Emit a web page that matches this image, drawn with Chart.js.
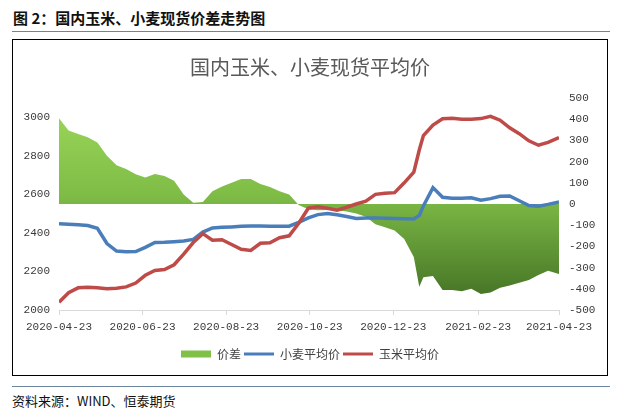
<!DOCTYPE html>
<html lang="zh">
<head>
<meta charset="utf-8">
<title>国内玉米、小麦现货价差走势图</title>
<script src="https://cdn.jsdelivr.net/npm/chart.js@4.4.1/dist/chart.umd.min.js"></script>
<style>
  html, body { margin: 0; padding: 0; background: #fff; }
  body { width: 623px; height: 416px; position: relative; overflow: hidden; font-family: "Noto Sans CJK SC", sans-serif; }
  .fig-title { position: absolute; left: 13px; top: 7px; font-size: 15px; font-weight: bold; color: #111; line-height: 21px; white-space: nowrap; }
  .rule { position: absolute; left: 12px; width: 598px; height: 1px; background: #6d86a0; }
  .frame { position: absolute; left: 12px; top: 39px; width: 594px; height: 335px; border: 1px solid #000; }
  .frame canvas { display: block; }
  .source { position: absolute; left: 12px; top: 391px; font-size: 13px; color: #111; line-height: 19px; white-space: nowrap; }
</style>
</head>
<body>
<div class="fig-title">图 2：国内玉米、小麦现货价差走势图</div>
<div class="rule" style="top:31px"></div>
<div class="frame"><canvas id="chart" width="594" height="335" style="width:594px;height:335px"></canvas></div>
<div class="rule" style="top:386px"></div>
<div class="source">资料来源：WIND、恒泰期货</div>

<script>
// weekly readings, plus one extra point for the January spike
const dates = [
    '2020-04-23', '2020-04-30', '2020-05-07', '2020-05-14', '2020-05-21', '2020-05-28',
    '2020-06-04', '2020-06-11', '2020-06-18', '2020-06-25', '2020-07-02', '2020-07-09',
    '2020-07-16', '2020-07-23', '2020-07-30', '2020-08-06', '2020-08-13', '2020-08-20',
    '2020-08-27', '2020-09-03', '2020-09-10', '2020-09-17', '2020-09-24', '2020-10-01',
    '2020-10-08', '2020-10-15', '2020-10-22', '2020-10-29', '2020-11-05', '2020-11-12',
    '2020-11-19', '2020-11-26', '2020-12-03', '2020-12-10', '2020-12-17', '2020-12-24',
    '2020-12-31', '2021-01-07', '2021-01-11', '2021-01-14', '2021-01-21', '2021-01-28',
    '2021-02-04', '2021-02-11', '2021-02-18', '2021-02-25', '2021-03-04', '2021-03-11',
    '2021-03-18', '2021-03-25', '2021-04-01', '2021-04-08', '2021-04-15', '2021-04-23'
];

const wheatAvg = [
    2448, 2445, 2442, 2438, 2424, 2345, 2306, 2302, 2303, 2325, 2350, 2351,
    2354, 2358, 2366, 2404, 2426, 2429, 2431, 2434, 2436, 2436, 2435, 2434,
    2435, 2455, 2478, 2495, 2501, 2494, 2485, 2475, 2477, 2478, 2476, 2475,
    2473, 2472, 2490, 2540, 2635, 2585, 2580, 2580, 2582, 2570, 2578, 2590,
    2592, 2567, 2542, 2539, 2548, 2560
];

const cornAvg = [
    2040, 2090, 2115, 2118, 2115, 2110, 2113, 2120, 2140, 2180, 2205, 2210,
    2235, 2290, 2350, 2396, 2362, 2365, 2340, 2315, 2309, 2346, 2349, 2375,
    2385, 2450, 2528, 2535, 2528, 2518, 2533, 2550, 2565, 2600, 2606, 2609,
    2660, 2715, 2830, 2905, 2960, 2992, 2995, 2990, 2990, 2993, 3005, 2985,
    2945, 2915, 2878, 2855, 2870, 2895
];

const spread = [
    405, 347, 330, 315, 290, 228, 183, 165, 140, 125, 141, 132,
    110, 45, 6, 10, 60, 82, 100, 118, 118, 94, 80, 60,
    45, -5, -25, -30, -28, -30, -35, -45, -60, -95, -110, -125,
    -165, -250, -390, -345, -340, -406, -406, -412, -400, -425, -418, -395,
    -385, -372, -358, -335, -315, -330
];

const xTickDates = ['2020-04-23', '2020-06-23', '2020-08-23', '2020-10-23', '2020-12-23', '2021-02-23', '2021-04-23'];
const leftTicks = [2000, 2200, 2400, 2600, 2800, 3000];
const rightTicks = [-500, -400, -300, -200, -100, 0, 100, 200, 300, 400, 500];

const CJK = '"Noto Sans CJK SC", sans-serif';
const MONO = '"Liberation Mono", "DejaVu Sans Mono", monospace';

function dayOf(s) {
    const [y, m, d] = s.split('-').map(Number);
    return Math.round((Date.UTC(y, m - 1, d) - Date.UTC(2020, 3, 23)) / 86400000);
}

const days = dates.map(dayOf);
const points = (vals) => vals.map((v, i) => ({ x: days[i], y: v }));
const tickLabel = {};
xTickDates.forEach((d) => { tickLabel[dayOf(d)] = d; });

function greenFill(ctx) {
    const area = ctx.chart.chartArea;
    if (!area) return '#7fbf45';
    const g = ctx.chart.ctx.createLinearGradient(0, area.top, 0, area.bottom);
    g.addColorStop(0, '#9ed95b');
    g.addColorStop(0.45, '#7fbd47');
    g.addColorStop(1, '#3f6b22');
    return g;
}

new Chart(document.getElementById('chart'), {
    type: 'line',
    data: {
        datasets: [
            {
                label: '价差',
                data: points(spread),
                yAxisID: 'y1',
                fill: 'origin',
                backgroundColor: greenFill,
                borderColor: 'rgba(0,0,0,0)',
                borderWidth: 0,
                pointRadius: 0,
                order: 3
            },
            {
                label: '小麦平均价',
                data: points(wheatAvg),
                yAxisID: 'y',
                borderColor: '#4a7ebb',
                borderWidth: 3.5,
                pointRadius: 0,
                fill: false,
                order: 2
            },
            {
                label: '玉米平均价',
                data: points(cornAvg),
                yAxisID: 'y',
                borderColor: '#be4b48',
                borderWidth: 3.5,
                pointRadius: 0,
                fill: false,
                order: 1
            }
        ]
    },
    options: {
        responsive: false,
        animation: false,
        layout: { padding: { top: 0, bottom: 5, left: 0, right: 0 } },
        plugins: {
            tooltip: { enabled: false },
            title: {
                display: true,
                text: '国内玉米、小麦现货平均价',
                color: '#595959',
                font: { family: CJK, size: 20, weight: 'normal' },
                padding: { top: 15, bottom: 19 }
            },
            legend: {
                position: 'bottom',
                labels: {
                    usePointStyle: true,
                    pointStyleWidth: 30,
                    boxHeight: 7,
                    padding: 3,
                    color: '#404040',
                    font: { family: CJK, size: 12 },
                    generateLabels(chart) {
                        return chart.data.datasets.map((ds, i) => ({
                            text: ds.label,
                            datasetIndex: i,
                            fillStyle: i === 0 ? '#80bf48' : ds.borderColor,
                            strokeStyle: i === 0 ? '#80bf48' : ds.borderColor,
                            lineWidth: i === 0 ? 0 : 3,
                            pointStyle: i === 0 ? 'rect' : 'line',
                            fontColor: '#404040',
                            hidden: false
                        }));
                    }
                }
            }
        },
        scales: {
            x: {
                type: 'linear',
                min: 0,
                max: 365,
                afterBuildTicks: (s) => { s.ticks = xTickDates.map((d) => ({ value: dayOf(d) })); },
                afterFit: (s) => { s.height = 35; },
                grid: { display: true, drawOnChartArea: false, drawTicks: true, tickLength: 5, color: '#d9d9d9' },
                border: { display: true, color: '#d9d9d9' },
                ticks: {
                    autoSkip: false,
                    maxRotation: 0,
                    padding: 5,
                    color: '#3a3a3a',
                    font: { family: MONO, size: 11 },
                    callback: (v) => tickLabel[v] || ''
                }
            },
            y: {
                position: 'left',
                min: 2000,
                max: 3100,
                afterBuildTicks: (s) => { s.ticks = leftTicks.map((v) => ({ value: v })); },
                afterFit: (s) => { s.width = 46; },
                grid: { display: false, drawTicks: false },
                border: { display: false },
                ticks: { padding: 9, color: '#3a3a3a', font: { family: MONO, size: 11 }, callback: (v) => String(v) }
            },
            y1: {
                position: 'right',
                min: -500,
                max: 500,
                afterBuildTicks: (s) => { s.ticks = rightTicks.map((v) => ({ value: v })); },
                afterFit: (s) => { s.width = 48; },
                grid: { display: false, drawTicks: false },
                border: { display: false },
                ticks: { padding: 10, color: '#3a3a3a', font: { family: MONO, size: 11 }, callback: (v) => String(v) }
            }
        }
    }
});
</script>
</body>
</html>
